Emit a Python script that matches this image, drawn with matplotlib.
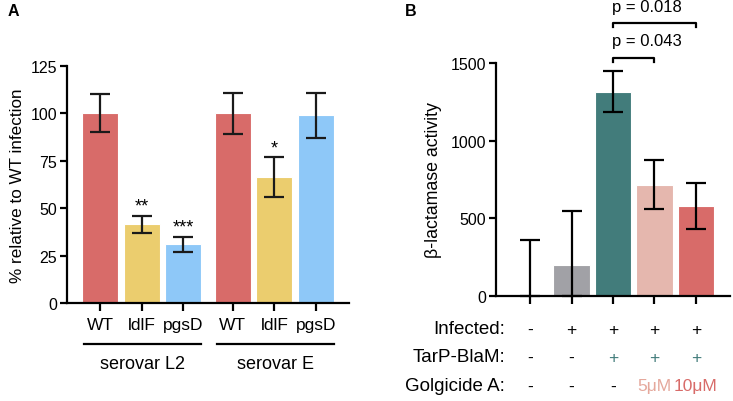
import matplotlib.pyplot as plt
import matplotlib.transforms as mtransforms

plt.rcParams['font.family'] = ['Liberation Sans', 'DejaVu Sans']

# Панель A: данные
strains = ['WT', 'ldlF', 'pgsD', 'WT', 'ldlF', 'pgsD']
groups = ['serovar L2', 'serovar E']
a_values = [100, 41.5, 31, 100, 66.5, 99]
a_low = [90, 37, 27, 89, 56, 87]
a_high = [110, 46, 35, 111, 77, 111]
a_stars = ['', '**', '***', '', '*', '']
a_colors = ['#D86B69', '#EBCD6E', '#8EC8F8', '#D86B69', '#EBCD6E', '#8EC8F8']

# Панель B: данные
b_values = [0, 200, 1315, 715, 580]
b_low = [0, 0, 1185, 560, 430]
b_high = [360, 545, 1450, 875, 725]
b_colors = ['#FFFFFF', '#A1A1A6', '#427C7B', '#E5B7AE', '#D86B69']
row_names = ['Infected:', 'TarP-BlaM:', 'Golgicide A:']
infected = ['-', '+', '+', '+', '+']
tarp = ['-', '-', '+', '+', '+']
golgicide = ['-', '-', '-', '5\u03bcM', '10\u03bcM']
tarp_colors = ['black', 'black', '#427C7B', '#427C7B', '#427C7B']
golg_colors = ['black', 'black', 'black', '#E5A89C', '#D86B69']
p_texts = ['p = 0.043', 'p = 0.018']
p_targets = [3, 4]

fs = 11.5      # подписи делений
fs_lab = 13.5  # подписи строк/групп
fig = plt.figure(figsize=(7.33, 4.02), dpi=100)


def style_axis(ax):
    for s in ['top', 'right']:
        ax.spines[s].set_visible(False)
    for s in ['left', 'bottom']:
        ax.spines[s].set_linewidth(1.6)
    ax.tick_params(direction='out', length=5, width=1.6, labelsize=fs, pad=2)


# ---------- A ----------
axA = fig.add_axes([67 / 733, 1 - 304 / 402, 282 / 733, 237 / 402])
xa = [0, 1, 2, 3.2, 4.2, 5.2]
err_a = [[v - l for v, l in zip(a_values, a_low)], [h - v for v, h in zip(a_values, a_high)]]
axA.bar(xa, a_values, width=0.87, color=a_colors, edgecolor='white', linewidth=0.8)
axA.errorbar(xa, a_values, yerr=err_a, fmt='none', ecolor='#1a1a1a', elinewidth=1.6,
             capsize=7.5, capthick=1.6)
for x, h, s in zip(xa, a_high, a_stars):
    if s:
        axA.text(x, h + 0.5, s, ha='center', va='bottom', fontsize=13)
axA.set_xlim(-0.8, 6.0)
axA.set_ylim(0, 125)
axA.set_yticks([0, 25, 50, 75, 100, 125])
axA.set_xticks(xa)
axA.set_xticklabels(strains)
style_axis(axA)
axA.tick_params(axis='x', pad=4, length=6, labelsize=12.5)
axA.set_ylabel('% relative to WT infection', fontsize=12.3, labelpad=4)

transA = mtransforms.blended_transform_factory(axA.transData, fig.transFigure)
for g, (x0, x1) in zip(groups, [(xa[0], xa[2]), (xa[3], xa[5])]):
    axA.plot([x0 - 0.38, x1 + 0.43], [1 - 345 / 402] * 2, color='black', lw=1.6,
             transform=transA, clip_on=False)
    axA.text((x0 + x1) / 2 + 0.03, 1 - 365 / 402, g, ha='center', va='center', fontsize=13,
             transform=transA)

fig.text(8 / 733, 1 - 11 / 402, 'A', fontsize=11.5, fontweight='bold', va='center')

# ---------- B ----------
axB = fig.add_axes([496 / 733, 1 - 297 / 402, 234 / 733, 233 / 402])
xb = list(range(len(b_values)))
err_b = [[v - l for v, l in zip(b_values, b_low)], [h - v for v, h in zip(b_values, b_high)]]
axB.bar(xb, b_values, width=0.87, color=b_colors, edgecolor='white', linewidth=0.8)
axB.errorbar(xb, b_values, yerr=err_b, fmt='none', ecolor='black', elinewidth=1.6,
             capsize=7.5, capthick=1.6, clip_on=False)
axB.set_xlim(-0.82, 4.82)
axB.set_ylim(0, 1500)
axB.set_yticks([0, 500, 1000, 1500])
axB.set_xticks(xb)
axB.set_xticklabels([])
style_axis(axB)
axB.tick_params(axis='x', length=6)
axB.set_ylabel('\u03b2-lactamase activity', fontsize=12.8, labelpad=6)

# скобки со значениями p
for i, (txt, t) in enumerate(zip(p_texts, p_targets)):
    top = [1534, 1758][i]
    axB.plot([2, 2, t, t], [top - 28, top, top, top - 28], color='black', lw=1.6,
             clip_on=False)
    axB.text(1.97, top + 108, txt, ha='left', va='center', fontsize=12, transform=axB.transData)

transB = mtransforms.blended_transform_factory(axB.transData, fig.transFigure)
rows = [(infected, ['black'] * 5), (tarp, tarp_colors), (golgicide, golg_colors)]
for k, (name, (vals, cols)) in enumerate(zip(row_names, rows)):
    y = 1 - [330, 358, 387][k] / 402
    axB.text(-0.6, y, name, ha='right', va='center', fontsize=fs_lab, transform=transB)
    for x, v, c in zip(xb, vals, cols):
        axB.text(x, y, v, ha='center', va='center', fontsize=12.5, color=c, transform=transB)

fig.text(405 / 733, 1 - 11 / 402, 'B', fontsize=11.5, fontweight='bold', va='center')

fig.savefig('out.png', dpi=100)
